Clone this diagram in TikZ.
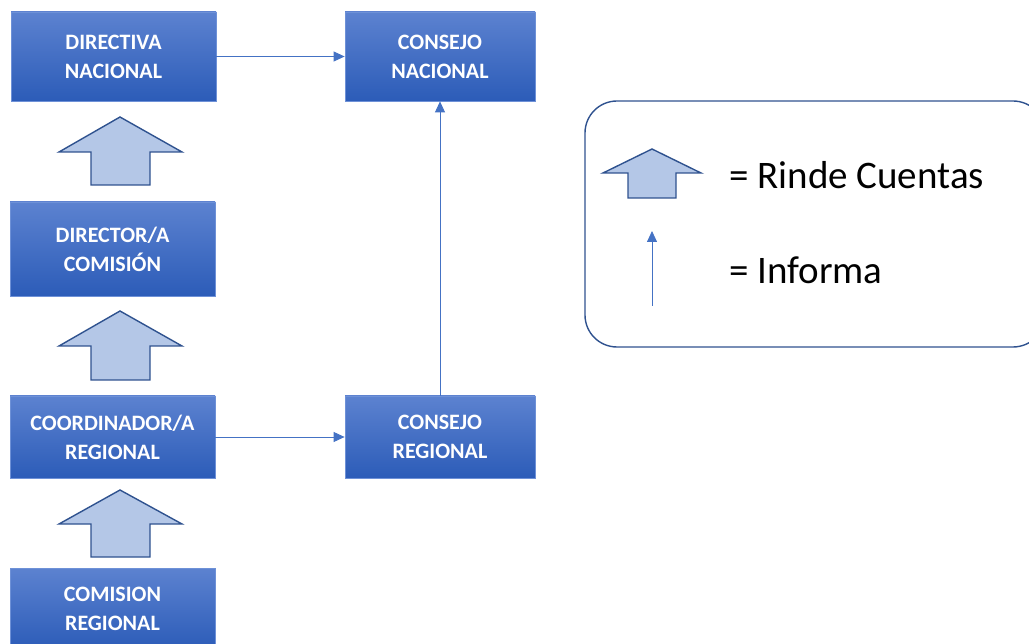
\documentclass[tikz,border=0pt]{standalone}
\usepackage{fontspec}
\setmainfont{Carlito}
\usetikzlibrary{arrows.meta}
\definecolor{boxtop}{RGB}{92,130,208}
\definecolor{boxbot}{RGB}{44,92,184}
\definecolor{boxline}{RGB}{110,145,215}
\definecolor{linkblue}{RGB}{68,114,196}
\definecolor{rindefill}{RGB}{180,199,231}
\definecolor{rindeline}{RGB}{47,82,143}
\tikzset{
  cargo/.style={draw=boxline,line width=0.8pt,top color=boxtop,bottom color=boxbot,
    text=white,align=center,font=\bfseries\fontsize{22}{29}\selectfont,
    minimum width=205pt,minimum height=89pt,inner sep=0pt},
  consejo/.style={cargo,minimum width=190pt},
  rinde/.style={draw=rindeline,fill=rindefill,line width=1.4pt,line join=miter},
  informa/.style={draw=linkblue,line width=0.8pt,-{Triangle[length=11pt,width=10pt]}},
  leyenda/.style={font=\fontsize{39}{42}\selectfont,anchor=west,inner sep=0pt}
}
\begin{document}
\begin{tikzpicture}[x=1pt,y=-1pt]
\useasboundingbox (0,0) rectangle (1029,644);
% cargos
\node[cargo] (dirnac) at (113.5,56.5) {DIRECTIVA\\NACIONAL};
\node[cargo,minimum height=94pt] (dircom) at (112.5,249) {DIRECTOR/A\\COMISIÓN};
\node[cargo,minimum height=82pt] (coorreg) at (112.5,437) {COORDINADOR/A\\REGIONAL};
\node[cargo,minimum height=81pt] (comreg) at (112.5,608.5) {COMISION\\REGIONAL};
% consejos
\node[consejo] (connac) at (440,56.5) {CONSEJO\\NACIONAL};
\node[consejo,minimum height=82pt] (conreg) at (440,437) {CONSEJO\\REGIONAL};
% informa
\draw[informa] (dirnac) -- (connac);
\draw[informa] (coorreg) -- (conreg);
\draw[informa] (conreg) -- (connac);
% rinde cuentas
\draw[rinde] (120,117)--(182,152)--(150,152)--(150,185)--(91,185)--(91,152)--(59,152)--cycle;
\draw[rinde] (120,311)--(182,346)--(150,346)--(150,380)--(91,380)--(91,346)--(59,346)--cycle;
\draw[rinde] (120,490)--(182,524)--(150,524)--(150,557)--(91,557)--(91,524)--(59,524)--cycle;
% leyenda
\draw[rindeline,line width=1.4pt,rounded corners=32pt] (585,101) rectangle (1045,347);
\draw[rinde] (652,149)--(701,173)--(676,173)--(676,198)--(628,198)--(628,173)--(603,173)--cycle;
\coordinate (infbot) at (652,306);
\coordinate (inftop) at (652,231);
\draw[informa] (infbot) -- (inftop);
\node[leyenda] (rindetxt) at (729,175) {= Rinde Cuentas};
\node[leyenda] (informatxt) at (729,270) {= Informa};
\end{tikzpicture}
\end{document}
